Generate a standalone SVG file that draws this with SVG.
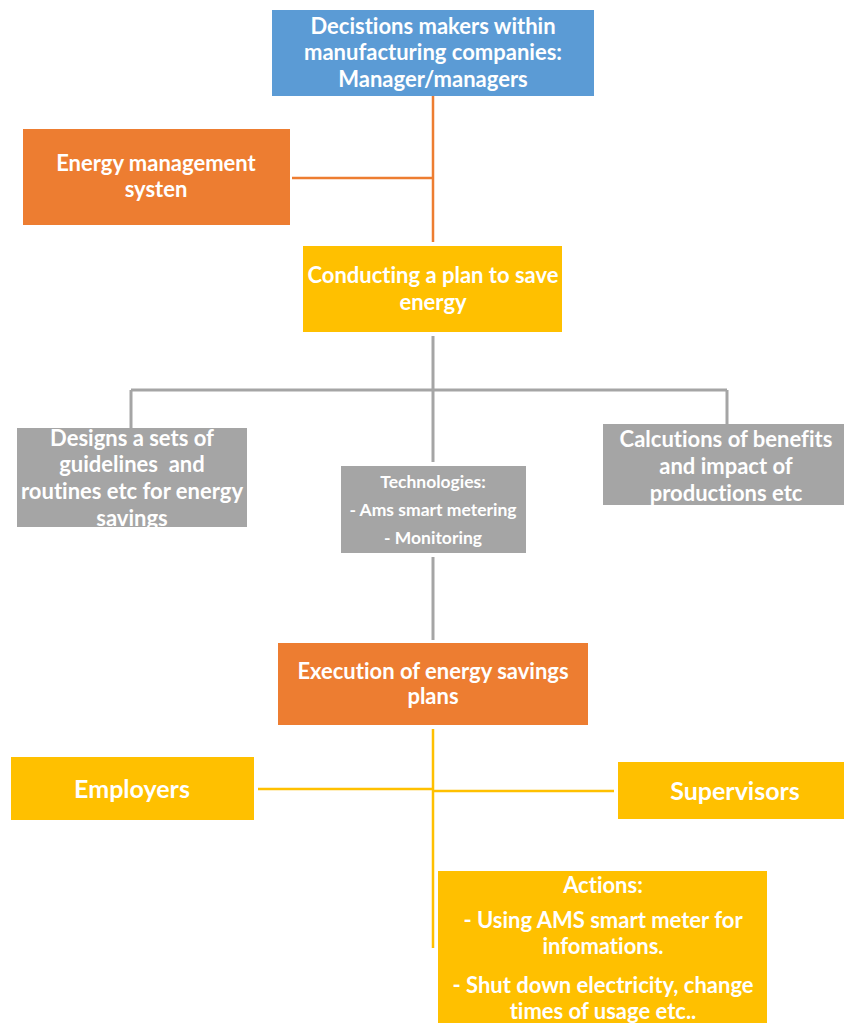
<svg xmlns="http://www.w3.org/2000/svg" width="844" height="1023" viewBox="0 0 844 1023">
  <style>
    .t { font-family: Lato, "Open Sans", "Liberation Sans", sans-serif; font-weight: bold; fill: #ffffff; text-anchor: middle; dominant-baseline: central; font-variant-ligatures: none; }
    .f20 { font-size: 22px; }
    .f16 { font-size: 17.5px; }
    .f23 { font-size: 25px; }
    .blue { fill: #5b9bd5; }
    .orange { fill: #ed7d31; }
    .yellow { fill: #ffc000; }
    .gray { fill: #a5a5a5; }
    .c-or { stroke: #ed7d31; stroke-width: 2.5; fill: none; }
    .c-gr { stroke: #a5a5a5; stroke-width: 3; fill: none; }
    .c-ye { stroke: #ffc000; stroke-width: 2.5; fill: none; }
  </style>

  <g id="connectors">
    <path class="c-or" d="M433 96 V242 M292 178 H433"/>
    <path class="c-gr" d="M433 336 V462 M131 390 H727 M131 390 V428 M727 390 V424 M433 557 V640"/>
    <path class="c-ye" d="M433 729 V948 M258 789 H433 M433 791 H614"/>
  </g>

  <g id="decision-makers">
    <rect class="blue" x="272" y="10" width="322" height="86"/>
    <text class="t f20" x="433" y="25">Decistions makers within</text>
    <text class="t f20" x="433" y="51">manufacturing companies:</text>
    <text class="t f20" x="433" y="78">Manager/managers</text>
  </g>

  <g id="energy-management">
    <rect class="orange" x="23" y="129" width="267" height="96"/>
    <text class="t f20" x="156" y="162">Energy management</text>
    <text class="t f20" x="156" y="188">systen</text>
  </g>

  <g id="plan">
    <rect class="yellow" x="303" y="246" width="259" height="86"/>
    <text class="t f20" x="433" y="274">Conducting a plan to save</text>
    <text class="t f20" x="433" y="301">energy</text>
  </g>

  <g id="guidelines">
    <rect class="gray" x="17" y="428" width="230" height="99"/>
    <text class="t f20" x="132" y="437">Designs a sets of</text>
    <text class="t f20" x="132" y="463" xml:space="preserve">guidelines  and</text>
    <text class="t f20" x="132" y="490">routines etc for energy</text>
    <text class="t f20" x="132" y="517">savings</text>
  </g>

  <g id="technologies">
    <rect class="gray" x="341" y="466" width="185" height="87"/>
    <text class="t f16" x="433" y="481">Technologies:</text>
    <text class="t f16" x="433" y="509">- Ams smart metering</text>
    <text class="t f16" x="433" y="537">- Monitoring</text>
  </g>

  <g id="calculations">
    <rect class="gray" x="603" y="424" width="241" height="81"/>
    <text class="t f20" x="726" y="438">Calcutions of benefits</text>
    <text class="t f20" x="726" y="465">and impact of</text>
    <text class="t f20" x="726" y="492">productions etc</text>
  </g>

  <g id="execution">
    <rect class="orange" x="278" y="643" width="310" height="82"/>
    <text class="t f20" x="433" y="670">Execution of energy savings</text>
    <text class="t f20" x="433" y="695">plans</text>
  </g>

  <g id="employers">
    <rect class="yellow" x="11" y="757" width="243" height="63"/>
    <text class="t f23" x="132" y="788">Employers</text>
  </g>

  <g id="supervisors">
    <rect class="yellow" x="618" y="762" width="226" height="57"/>
    <text class="t f23" x="735" y="790">Supervisors</text>
  </g>

  <g id="actions">
    <rect class="yellow" x="438" y="871" width="329" height="152"/>
    <text class="t f20" x="603" y="884">Actions:</text>
    <text class="t f20" x="603" y="919">- Using AMS smart meter for</text>
    <text class="t f20" x="603" y="945">infomations.</text>
    <text class="t f20" x="603" y="984">- Shut down electricity, change</text>
    <text class="t f20" x="603" y="1010">times of usage etc..</text>
  </g>
</svg>
